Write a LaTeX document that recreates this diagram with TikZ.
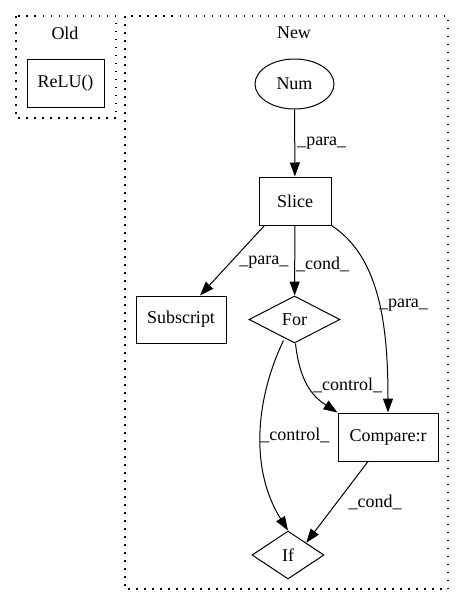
\documentclass[tikz,border=0pt]{standalone}
\usepackage{fontspec}
\setmainfont{Liberation Serif}
\usetikzlibrary{shapes.geometric,positioning,arrows.meta}

\tikzset{
	op/.style={draw,rectangle,minimum height=48pt,inner sep=0pt},
	cond/.style={draw,diamond,minimum height=47pt,inner sep=0pt},
	cluster/.style={-,draw,line width=1.2pt,dash pattern=on 1.5pt off 6.5pt}
}

\begin{document}
\begin{tikzpicture}[->,>={Stealth[length=14pt,width=10pt,inset=0pt]},x=1pt,y=-1pt,auto,line width=1pt,
	every node/.style={font=\fontsize{18}{20}\selectfont}]
		\useasboundingbox (0,0) rectangle (464,606);

		\draw[cluster] (16,16) rectangle (116,118);
		\draw[cluster] (125,16) rectangle (448,589);
		\node (old) at (65,33) {Old};
		\node (new) at (294,33) {New};

		\node[op,minimum width=77pt] (relu) at (65.5,83) {ReLU()};
		\node[draw,ellipse,minimum width=79pt,minimum height=50pt,inner sep=0pt] (num) at (294.5,84) {Num};
		\node[op,minimum width=72pt] (slc) at (295,201) {Slice};
		\node[op,minimum width=90pt,minimum height=47pt] (sub) at (181,319.5) {Subscript};
		\node[cond,minimum width=91pt] (forl) at (294.5,319.5) {For};
		\node[op,minimum width=100pt] (cmp) at (388,437) {Compare:r};
		\node[cond,minimum width=72pt,minimum height=48pt] (ifn) at (288,555) {If};

		\draw 	(num) -- node[pos=.5,inner sep=2pt]{\_para\_} (slc);
		\draw 	(slc.south west) ++(6,0) coordinate (s1) (s1) -- node[pos=.52,inner sep=1pt,anchor=west,xshift=7pt]{\_para\_} (sub.north east -| 200,0);
		\draw 	(slc) -- node[pos=.55,inner sep=1pt,anchor=west]{\_cond\_} (forl);
		\draw 	(slc.south east) .. controls (378,256) and (388,320) .. node[pos=.55,inner sep=1pt,anchor=west,xshift=-2pt]{\_para\_} (cmp.north);
		\draw 	(forl.south) ++(1,0) coordinate (f1) (f1) .. controls (300,385) and (315,398) .. node[pos=.45,inner sep=1pt,anchor=west,xshift=4pt]{\_control\_} (cmp.north west);
		\draw 	(forl.south) ++(-11,-3) coordinate (f2) (f2) .. controls (255,400) and (250,470) .. node[pos=.5,inner sep=1pt,anchor=west,xshift=-2pt]{\_control\_} (ifn.north);
		\draw 	(cmp.south) ++(-20,0) coordinate (c1) (c1) -- node[pos=.5,inner sep=1pt,anchor=west,xshift=10pt]{\_cond\_} (ifn.north east);
	\end{tikzpicture}
\end{document}
